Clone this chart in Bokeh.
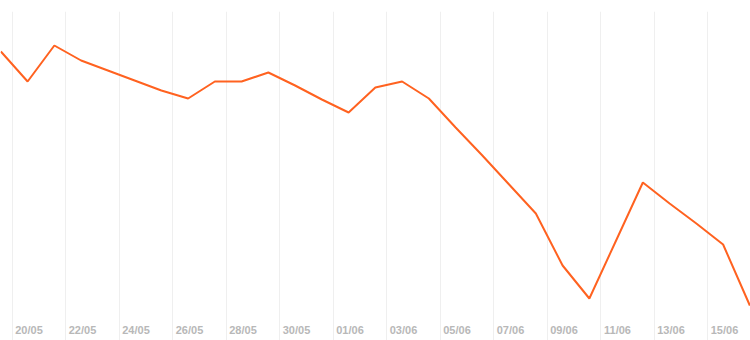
import datetime as dt
from bokeh.plotting import figure
from bokeh.models import Range1d, FixedTicker, DatetimeTickFormatter
from bokeh.embed import file_html
from bokeh.resources import INLINE

YEAR = 2023

# data points (one per day)
dates = ["19/05", "20/05", "21/05", "22/05", "23/05", "24/05", "25/05", "26/05",
         "27/05", "28/05", "29/05", "30/05", "31/05", "01/06", "02/06", "03/06",
         "04/06", "05/06", "06/06", "07/06", "08/06", "09/06", "10/06", "11/06",
         "12/06", "13/06", "14/06", "15/06", "16/06"]
values = [269, 239, 275, 260, 250, 240, 230, 222, 239, 239, 248, 235, 221, 208,
          233, 239, 222, 193, 165, 136, 107, 55, 22, 80, 138, 117, 97, 76, 15]

# x-axis tick labels (every second day)
tick_labels = ["20/05", "22/05", "24/05", "26/05", "28/05", "30/05", "01/06",
               "03/06", "05/06", "07/06", "09/06", "11/06", "13/06", "15/06"]

W, H = 750, 340
PX_PER_DAY = 26.75
EPOCH = dt.datetime(1970, 1, 1)


def to_dt(s, hours=0.0):
    d, m = map(int, s.split("/"))
    return dt.datetime(YEAR, m, d) + dt.timedelta(hours=hours)


def ms(d):
    return (d - EPOCH).total_seconds() * 1000.0


xs = [to_dt(s, 14) for s in dates]
day0 = to_dt(tick_labels[0])
x_start = day0 - dt.timedelta(days=11.5 / PX_PER_DAY)
x_end = x_start + dt.timedelta(days=W / PX_PER_DAY)

p = figure(width=W, height=H, output_backend="svg", toolbar_location=None,
           x_axis_type="datetime", y_axis_location=None,
           x_range=Range1d(x_start, x_end), y_range=Range1d(-20, 309))
p.min_border_left = 0
p.min_border_right = 0
p.min_border_top = 11
p.min_border_bottom = 0
p.outline_line_color = None
p.background_fill_color = "white"
p.border_fill_color = "white"

p.ygrid.visible = False
p.xgrid.ticker = FixedTicker(ticks=[ms(to_dt(s)) for s in tick_labels])
p.xgrid.grid_line_color = "#efefef"
p.xgrid.grid_line_width = 1

ax = p.xaxis[0]
ax.ticker = FixedTicker(ticks=[ms(to_dt(s, 15.25)) for s in tick_labels])
fmt = "%d/%m"
ax.formatter = DatetimeTickFormatter(microseconds=fmt, milliseconds=fmt, seconds=fmt,
                                     minsec=fmt, minutes=fmt, hourmin=fmt, hours=fmt,
                                     days=fmt, months=fmt, years=fmt)
ax.fixed_location = 2
ax.axis_line_color = None
ax.major_tick_line_color = None
ax.minor_tick_line_color = None
ax.major_tick_out = 0
ax.major_tick_in = 0
ax.major_label_standoff = 5
ax.major_label_text_color = "#b8b8b8"
ax.major_label_text_font = "Liberation Sans"
ax.major_label_text_font_size = "11px"
ax.major_label_text_font_style = "bold"

p.line(xs, values, line_color="#ff6220", line_width=2)

open("out.html", "w").write(file_html(p, INLINE))
